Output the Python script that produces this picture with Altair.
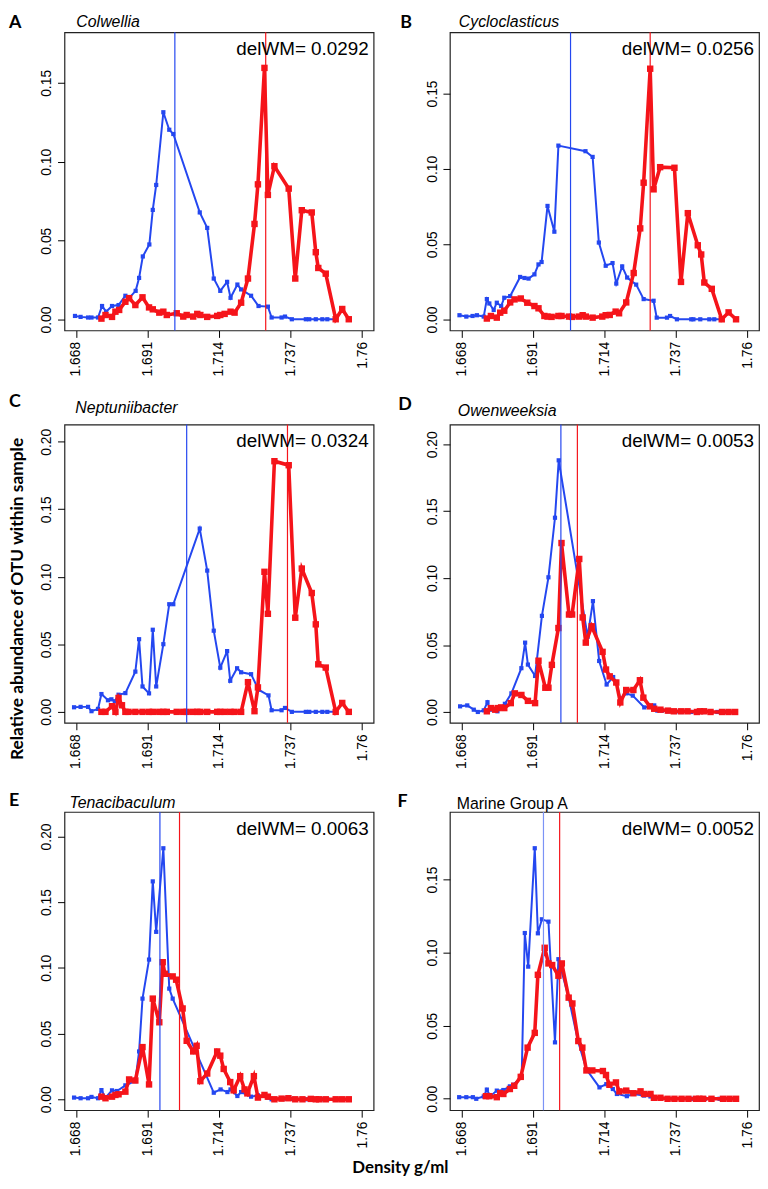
import altair as alt
import pandas as pd

# ---------------- data ----------------
density_ticks = [1.668, 1.691, 1.714, 1.737, 1.76]
x_domain = [1.66432, 1.76368]

panel_letters = ["A", "B", "C", "D", "E", "F"]
panel_names = ["Colwellia", "Cycloclasticus", "Neptuniibacter", "Owenweeksia", "Tenacibaculum", "Marine Group A"]
delwm_text = ["0.0292", "0.0256", "0.0324", "0.0053", "0.0063", "0.0052"]
wm_control = [1.6998, 1.7031, 1.7036, 1.7000, 1.6950, 1.6944]
wm_labeled = [1.7290, 1.7287, 1.7360, 1.7053, 1.7013, 1.6996]

y_domains = [[-0.0069, 0.1821], [-0.0072, 0.1906], [-0.0081, 0.2127],
             [-0.0081, 0.2147], [-0.0083, 0.2186], [-0.0078, 0.1962]]
y_ticks_small = [0.0, 0.05, 0.10, 0.15]
y_ticks_large = [0.0, 0.05, 0.10, 0.15, 0.20]

# Panel A - Colwellia
a_ctrl_x = [1.6677, 1.6695, 1.6719, 1.6730, 1.6751, 1.6764, 1.6777, 1.6796, 1.6817, 1.6839, 1.6853, 1.6872, 1.6883, 1.6895, 1.6916, 1.6927, 1.6938, 1.6961, 1.6980, 1.6993, 1.7078, 1.7102, 1.7123, 1.7144, 1.7166, 1.7177, 1.7199, 1.7211, 1.7243, 1.7267, 1.7297, 1.7309, 1.7341, 1.7352, 1.7374, 1.7419, 1.7430, 1.7451, 1.7472, 1.7488, 1.7515]
a_ctrl_y = [0.0023, 0.0017, 0.0013, 0.0013, 0.0013, 0.0086, 0.0050, 0.0086, 0.0092, 0.0151, 0.0141, 0.0182, 0.0264, 0.0400, 0.0476, 0.0695, 0.0853, 0.1314, 0.1203, 0.1176, 0.0679, 0.0581, 0.0260, 0.0182, 0.0239, 0.0138, 0.0222, 0.0191, 0.0151, 0.0086, 0.0082, 0.0013, 0.0013, 0.0019, 0.0002, 0.0002, 0.0002, 0.0002, 0.0002, 0.0002, 0.0002]
a_lab_x = [1.6762, 1.6775, 1.6796, 1.6807, 1.6819, 1.6839, 1.6851, 1.6871, 1.6894, 1.6915, 1.6927, 1.6948, 1.6961, 1.6972, 1.7004, 1.7025, 1.7036, 1.7057, 1.7070, 1.7080, 1.7102, 1.7134, 1.7144, 1.7158, 1.7177, 1.7190, 1.7211, 1.7233, 1.7254, 1.7265, 1.7286, 1.7297, 1.7318, 1.7364, 1.7385, 1.7406, 1.7438, 1.7451, 1.7459, 1.7483, 1.7515, 1.7536, 1.7557]
a_lab_y = [0.0006, 0.0029, 0.0017, 0.0050, 0.0061, 0.0113, 0.0136, 0.0092, 0.0141, 0.0077, 0.0065, 0.0044, 0.0050, 0.0029, 0.0040, 0.0019, 0.0029, 0.0019, 0.0036, 0.0029, 0.0017, 0.0023, 0.0029, 0.0036, 0.0050, 0.0044, 0.0107, 0.0260, 0.0606, 0.0857, 0.1595, 0.0790, 0.0972, 0.0830, 0.0260, 0.0693, 0.0679, 0.0427, 0.0327, 0.0291, 0.0002, 0.0067, 0.0002]

# Panel B - Cycloclasticus
b_ctrl_x = [1.6674, 1.6696, 1.6716, 1.6730, 1.6752, 1.6762, 1.6770, 1.6784, 1.6794, 1.6808, 1.6818, 1.6837, 1.6869, 1.6883, 1.6896, 1.6915, 1.6928, 1.6938, 1.6957, 1.6979, 1.6992, 1.7079, 1.7102, 1.7122, 1.7144, 1.7166, 1.7178, 1.7197, 1.7213, 1.7242, 1.7266, 1.7298, 1.7308, 1.7341, 1.7351, 1.7373, 1.7419, 1.7426, 1.7448, 1.7477, 1.7493, 1.7517]
b_ctrl_y = [0.0029, 0.0020, 0.0024, 0.0029, 0.0020, 0.0136, 0.0107, 0.0064, 0.0112, 0.0090, 0.0145, 0.0156, 0.0283, 0.0276, 0.0272, 0.0300, 0.0366, 0.0382, 0.0754, 0.0583, 0.1154, 0.1117, 0.1079, 0.0511, 0.0357, 0.0375, 0.0239, 0.0353, 0.0279, 0.0232, 0.0136, 0.0125, 0.0013, 0.0013, 0.0024, 0.0002, 0.0002, 0.0002, 0.0002, 0.0002, 0.0002, 0.0002]
b_lab_x = [1.6762, 1.6775, 1.6794, 1.6805, 1.6818, 1.6837, 1.6851, 1.6871, 1.6892, 1.6915, 1.6928, 1.6947, 1.6957, 1.6970, 1.6992, 1.7002, 1.7026, 1.7036, 1.7058, 1.7070, 1.7080, 1.7102, 1.7133, 1.7144, 1.7157, 1.7176, 1.7187, 1.7210, 1.7234, 1.7255, 1.7266, 1.7287, 1.7298, 1.7319, 1.7365, 1.7386, 1.7408, 1.7440, 1.7451, 1.7461, 1.7485, 1.7517, 1.7539, 1.7563]
b_lab_y = [0.0007, 0.0024, 0.0013, 0.0046, 0.0059, 0.0114, 0.0134, 0.0140, 0.0112, 0.0090, 0.0075, 0.0024, 0.0020, 0.0018, 0.0024, 0.0024, 0.0020, 0.0018, 0.0020, 0.0029, 0.0020, 0.0013, 0.0020, 0.0029, 0.0031, 0.0053, 0.0042, 0.0114, 0.0309, 0.0605, 0.0908, 0.1664, 0.0864, 0.1011, 0.1007, 0.0250, 0.0706, 0.0493, 0.0432, 0.0246, 0.0204, 0.0002, 0.0048, 0.0002]

# Panel C - Neptuniibacter
c_ctrl_x = [1.6674, 1.6695, 1.6719, 1.6730, 1.6751, 1.6762, 1.6783, 1.6794, 1.6805, 1.6817, 1.6839, 1.6871, 1.6883, 1.6894, 1.6915, 1.6927, 1.6938, 1.6961, 1.6980, 1.6993, 1.7078, 1.7102, 1.7123, 1.7144, 1.7166, 1.7176, 1.7198, 1.7211, 1.7243, 1.7267, 1.7299, 1.7309, 1.7341, 1.7352, 1.7374, 1.7419, 1.7430, 1.7451, 1.7472, 1.7488, 1.7515]
c_ctrl_y = [0.0034, 0.0037, 0.0037, 0.0005, 0.0022, 0.0132, 0.0086, 0.0093, 0.0078, 0.0127, 0.0139, 0.0298, 0.0538, 0.0188, 0.0137, 0.0608, 0.0188, 0.0501, 0.0797, 0.0797, 0.1357, 0.1046, 0.0601, 0.0327, 0.0450, 0.0230, 0.0323, 0.0293, 0.0279, 0.0164, 0.0122, 0.0012, 0.0012, 0.0029, 0.0000, 0.0, 0.0, 0.0, 0.0, 0.0, 0.0]
c_lab_x = [1.6762, 1.6775, 1.6796, 1.6807, 1.6817, 1.6828, 1.6839, 1.6849, 1.6871, 1.6894, 1.6915, 1.6927, 1.6948, 1.6961, 1.6972, 1.7004, 1.7025, 1.7036, 1.7057, 1.7070, 1.7080, 1.7102, 1.7134, 1.7144, 1.7158, 1.7177, 1.7190, 1.7211, 1.7233, 1.7254, 1.7265, 1.7286, 1.7297, 1.7318, 1.7364, 1.7385, 1.7406, 1.7438, 1.7451, 1.7459, 1.7483, 1.7515, 1.7536, 1.7557]
c_lab_y = [0.0, 0.0, 0.0042, 0.0, 0.0103, 0.0049, 0.0, 0.0, 0.0, 0.0, 0.0, 0.0, 0.0, 0.0, 0.0, 0.0, 0.0, 0.0, 0.0, 0.0, 0.0, 0.0, 0.0, 0.0, 0.0, 0.0, 0.0, 0.0, 0.0220, 0.0005, 0.0181, 0.1037, 0.0726, 0.1856, 0.1826, 0.0697, 0.1061, 0.0880, 0.0648, 0.0352, 0.0328, 0.0, 0.0066, 0.0]

# Panel D - Owenweeksia
d_ctrl_x = [1.6676, 1.6699, 1.6720, 1.6733, 1.6752, 1.6764, 1.6773, 1.6796, 1.6820, 1.6841, 1.6873, 1.6885, 1.6894, 1.6917, 1.6939, 1.6960, 1.6981, 1.6993, 1.7086, 1.7103, 1.7123, 1.7147, 1.7168, 1.7178, 1.7191, 1.7210, 1.7231, 1.7268, 1.7300, 1.7310, 1.7325, 1.7344, 1.7368, 1.7386, 1.7419, 1.7440, 1.7461, 1.7482, 1.7503, 1.7524]
d_ctrl_y = [0.0042, 0.0049, 0.0017, 0.0000, 0.0012, 0.0073, 0.0017, 0.0005, 0.0061, 0.0139, 0.0327, 0.0518, 0.0354, 0.0269, 0.0718, 0.1006, 0.1451, 0.1880, 0.0562, 0.0828, 0.0381, 0.0205, 0.0261, 0.0225, 0.0098, 0.0139, 0.0122, 0.0034, 0.0049, 0.0010, 0.0010, 0.0005, 0.0000, 0.0, 0.0, 0.0, 0.0, 0.0, 0.0, 0.0]
d_lab_x = [1.6762, 1.6775, 1.6789, 1.6797, 1.6808, 1.6818, 1.6839, 1.6852, 1.6873, 1.6894, 1.6917, 1.6928, 1.6950, 1.6960, 1.6971, 1.6992, 1.7002, 1.7026, 1.7036, 1.7059, 1.7070, 1.7080, 1.7099, 1.7134, 1.7145, 1.7157, 1.7178, 1.7191, 1.7210, 1.7233, 1.7254, 1.7265, 1.7286, 1.7300, 1.7320, 1.7344, 1.7363, 1.7386, 1.7407, 1.7437, 1.7447, 1.7460, 1.7481, 1.7518, 1.7539, 1.7560]
d_lab_y = [0.0005, 0.0029, 0.0017, 0.0029, 0.0034, 0.0029, 0.0066, 0.0139, 0.0127, 0.0083, 0.0066, 0.0383, 0.0181, 0.0181, 0.0352, 0.0627, 0.1262, 0.0728, 0.0728, 0.1143, 0.0706, 0.0518, 0.0640, 0.0449, 0.0317, 0.0266, 0.0220, 0.0071, 0.0164, 0.0164, 0.0237, 0.0107, 0.0042, 0.0024, 0.0017, 0.0010, 0.0005, 0.0005, 0.0005, 0.0000, 0.0005, 0.0005, 0.0000, 0.0, 0.0, 0.0]

# Panel E - Tenacibaculum
e_ctrl_x = [1.6674, 1.6695, 1.6719, 1.6730, 1.6751, 1.6762, 1.6775, 1.6796, 1.6812, 1.6839, 1.6871, 1.6883, 1.6894, 1.6915, 1.6927, 1.6938, 1.6961, 1.6980, 1.6991, 1.7123, 1.7145, 1.7167, 1.7177, 1.7199, 1.7211, 1.7243, 1.7265, 1.7297, 1.7309, 1.7341, 1.7352, 1.7374, 1.7419, 1.7451, 1.7472, 1.7488, 1.7515]
e_ctrl_y = [0.0013, 0.0008, 0.0008, 0.0018, 0.0008, 0.0070, 0.0013, 0.0068, 0.0063, 0.0106, 0.0138, 0.0364, 0.0766, 0.1063, 0.1658, 0.1274, 0.1910, 0.0842, 0.0766, 0.0050, 0.0075, 0.0055, 0.0075, 0.0025, 0.0055, 0.0020, 0.0030, 0.0013, 0.0000, 0.0005, 0.0005, 0.0003, 0.0, 0.0, 0.0, 0.0, 0.0]
e_lab_x = [1.6762, 1.6775, 1.6796, 1.6807, 1.6817, 1.6839, 1.6851, 1.6871, 1.6894, 1.6915, 1.6927, 1.6948, 1.6959, 1.6966, 1.6991, 1.7002, 1.7023, 1.7036, 1.7057, 1.7068, 1.7080, 1.7102, 1.7134, 1.7144, 1.7155, 1.7176, 1.7187, 1.7208, 1.7222, 1.7231, 1.7252, 1.7265, 1.7286, 1.7297, 1.7318, 1.7341, 1.7363, 1.7385, 1.7408, 1.7435, 1.7451, 1.7462, 1.7483, 1.7515, 1.7536, 1.7557]
e_lab_y = [0.0020, 0.0008, 0.0020, 0.0033, 0.0038, 0.0058, 0.0151, 0.0143, 0.0397, 0.0113, 0.0766, 0.0586, 0.1043, 0.0955, 0.0935, 0.0910, 0.0691, 0.0445, 0.0364, 0.0407, 0.0138, 0.0196, 0.0364, 0.0332, 0.0231, 0.0131, 0.0068, 0.0176, 0.0075, 0.0045, 0.0176, 0.0013, 0.0033, 0.0020, 0.0000, 0.0005, 0.0008, 0.0000, 0.0000, 0.0003, 0.0, 0.0, 0.0, 0.0, 0.0, 0.0]

# Panel F - Marine Group A
f_ctrl_x = [1.6673, 1.6696, 1.6717, 1.6728, 1.6752, 1.6762, 1.6773, 1.6794, 1.6815, 1.6836, 1.6847, 1.6874, 1.6884, 1.6895, 1.6916, 1.6926, 1.6939, 1.6960, 1.6981, 1.6992, 1.7025, 1.7055, 1.7082, 1.7124, 1.7146, 1.7167, 1.7180, 1.7212, 1.7233, 1.7267, 1.7288, 1.7299, 1.7320, 1.7341, 1.7362, 1.7410, 1.7420, 1.7441, 1.7463, 1.7484, 1.7510]
f_ctrl_y = [0.0011, 0.0011, 0.0011, 0.0000, 0.0016, 0.0063, 0.0018, 0.0056, 0.0060, 0.0085, 0.0096, 0.0150, 0.1134, 0.0904, 0.1714, 0.1132, 0.1228, 0.1212, 0.0386, 0.0955, 0.0692, 0.0395, 0.0201, 0.0078, 0.0100, 0.0067, 0.0033, 0.0018, 0.0033, 0.0022, 0.0016, 0.0011, 0.0007, 0.0, 0.0, 0.0, 0.0, 0.0, 0.0, 0.0, 0.0]
f_lab_x = [1.6759, 1.6770, 1.6794, 1.6805, 1.6815, 1.6836, 1.6850, 1.6871, 1.6893, 1.6916, 1.6926, 1.6948, 1.6960, 1.6972, 1.6992, 1.7003, 1.7025, 1.7037, 1.7056, 1.7069, 1.7082, 1.7101, 1.7135, 1.7145, 1.7156, 1.7177, 1.7188, 1.7210, 1.7233, 1.7256, 1.7267, 1.7288, 1.7299, 1.7320, 1.7343, 1.7365, 1.7388, 1.7410, 1.7434, 1.7445, 1.7457, 1.7484, 1.7521, 1.7542, 1.7563]
f_lab_y = [0.0018, 0.0018, 0.0011, 0.0038, 0.0033, 0.0067, 0.0089, 0.0150, 0.0350, 0.0451, 0.0848, 0.1033, 0.0926, 0.0915, 0.0842, 0.0926, 0.0692, 0.0652, 0.0395, 0.0350, 0.0194, 0.0194, 0.0190, 0.0163, 0.0096, 0.0112, 0.0051, 0.0056, 0.0038, 0.0051, 0.0033, 0.0033, 0.0007, 0.0007, 0.0, 0.0, 0.0, 0.0, 0.0, 0.0, 0.0, 0.0, 0.0, 0.0, 0.0]

ctrl_x = [a_ctrl_x, b_ctrl_x, c_ctrl_x, d_ctrl_x, e_ctrl_x, f_ctrl_x]
ctrl_y = [a_ctrl_y, b_ctrl_y, c_ctrl_y, d_ctrl_y, e_ctrl_y, f_ctrl_y]
lab_x = [a_lab_x, b_lab_x, c_lab_x, d_lab_x, e_lab_x, f_lab_x]
lab_y = [a_lab_y, b_lab_y, c_lab_y, d_lab_y, e_lab_y, f_lab_y]

y_axis_title = "Relative abundance of OTU within sample"
x_axis_title = "Density g/ml"

# ---------------- styling / layout ----------------
W, H = 312, 301
BLUE = "#2447f0"
RED = "#f5141a"
TICK_FONT = "Liberation Sans"
BOLD_FONT = "Lato"

# (name_x, name_y, letter_x, letter_y) relative to plot frame
text_pos = [
    (12, -5, -56, -4),
    (9, -5, -50, -4),
    (11, -12, -56, -18),
    (8, -9, -52, -15),
    (5, -4, -56, -6),
    (7, -3, -53, -5),
]


def panel(i):
    y_ticks = y_ticks_large if i in (2, 3, 4) else y_ticks_small
    xenc = alt.X(
        "d:Q",
        scale=alt.Scale(domain=x_domain, nice=False, zero=False),
        axis=alt.Axis(values=density_ticks, format=".3~f", labelAngle=-90,
                      labelAlign="right", labelBaseline="middle",
                      title=None, grid=False, domain=False, tickSize=7,
                      tickColor="black", tickWidth=1, labelPadding=4,
                      labelFont=TICK_FONT, labelFontSize=14, labelColor="black"),
    )
    yenc = alt.Y(
        "v:Q",
        scale=alt.Scale(domain=y_domains[i], nice=False, zero=False),
        axis=alt.Axis(values=y_ticks, format=".2f", labelAngle=-90,
                      labelAlign="center", labelBaseline="bottom",
                      title=None, grid=False, domain=False, tickSize=7,
                      tickColor="black", tickWidth=1, labelPadding=4,
                      labelFont=TICK_FONT, labelFontSize=14, labelColor="black"),
    )
    ctrl = pd.DataFrame({"d": ctrl_x[i], "v": ctrl_y[i]})
    lab = pd.DataFrame({"d": lab_x[i], "v": lab_y[i]})

    blue_line = alt.Chart(ctrl).mark_line(color=BLUE, strokeWidth=2).encode(x=xenc, y=yenc)
    blue_pts = alt.Chart(ctrl).mark_point(color=BLUE, filled=True, shape="square", size=18, opacity=1).encode(x="d:Q", y="v:Q")
    red_line = alt.Chart(lab).mark_line(color=RED, strokeWidth=3.6).encode(x="d:Q", y="v:Q")
    red_pts = alt.Chart(lab).mark_point(color=RED, filled=True, shape="square", size=42, opacity=1).encode(x="d:Q", y="v:Q")

    vblue = alt.Chart(pd.DataFrame({"d": [wm_control[i]]})).mark_rule(
        color=BLUE if i != 5 else "#7b93f6", strokeWidth=1.2).encode(x="d:Q")
    vred = alt.Chart(pd.DataFrame({"d": [wm_labeled[i]]})).mark_rule(
        color=RED, strokeWidth=1.2).encode(x="d:Q")

    delwm = alt.Chart(pd.DataFrame({"t": ["delWM= " + delwm_text[i]]})).mark_text(
        font=TICK_FONT, fontSize=19, align="right", baseline="alphabetic", color="black"
    ).encode(text="t:N", x=alt.value(W - 5), y=alt.value(23))

    nx, ny, lx, ly = text_pos[i]
    name = alt.Chart(pd.DataFrame({"t": [panel_names[i]]})).mark_text(
        font=TICK_FONT, fontSize=16, fontStyle=("normal" if i == 5 else "italic"),
        align="left", baseline="alphabetic", color="black"
    ).encode(text="t:N", x=alt.value(nx), y=alt.value(ny))
    letter = alt.Chart(pd.DataFrame({"t": [panel_letters[i]]})).mark_text(
        font=BOLD_FONT, fontSize=18, fontWeight="bold",
        align="left", baseline="alphabetic", color="black"
    ).encode(text="t:N", x=alt.value(lx), y=alt.value(ly))

    layers = [blue_line, blue_pts, red_line, red_pts, vblue, vred, delwm, name, letter]

    if i == 2:
        ytitle = alt.Chart(pd.DataFrame({"t": [y_axis_title]})).mark_text(
            font=BOLD_FONT, fontSize=17.5, fontWeight="bold", angle=270,
            align="center", baseline="alphabetic", color="black"
        ).encode(text="t:N", x=alt.value(-42), y=alt.value(176))
        layers.append(ytitle)

    return alt.layer(*layers).properties(width=W, height=H)


panels = [panel(i) for i in range(6)]
row1 = alt.hconcat(panels[0], panels[1], spacing=25)
row2 = alt.hconcat(panels[2], panels[3], spacing=23)
row3 = alt.hconcat(panels[4], panels[5], spacing=22)

footer = alt.Chart(pd.DataFrame({"t": [x_axis_title]})).mark_text(
    font=BOLD_FONT, fontSize=17, fontWeight="bold",
    align="center", baseline="alphabetic", color="black"
).encode(text="t:N", x=alt.value(339), y=alt.value(16)).properties(
    width=690, height=1, view=alt.ViewBackground(strokeOpacity=0, strokeWidth=0)
)

top = alt.vconcat(row1, row2, spacing=15)
mid = alt.vconcat(top, row3, spacing=22)
chart = alt.vconcat(mid, footer, spacing=0).properties(
    padding=0, background="white"
).configure_view(stroke="#222222", strokeWidth=1.2)

chart.save("out.html", embed_options={"renderer": "svg", "actions": False})
